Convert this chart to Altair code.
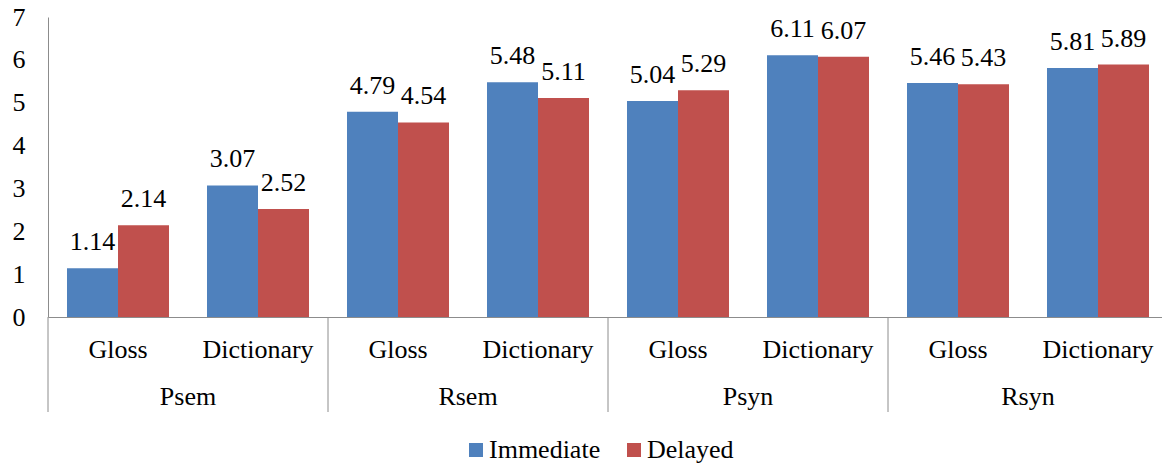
import altair as alt
import pandas as pd

groups = ["Psem", "Rsem", "Psyn", "Rsyn"]
subs = ["Gloss", "Dictionary"]
series = ["Immediate", "Delayed"]
immediate = [1.14, 3.07, 4.79, 5.48, 5.04, 6.11, 5.46, 5.81]
delayed = [2.14, 2.52, 4.54, 5.11, 5.29, 6.07, 5.43, 5.89]
colors = ["#4F81BD", "#C0504D"]
y_ticks = [0, 1, 2, 3, 4, 5, 6, 7]

FONT = "Liberation Serif, Times New Roman, DejaVu Serif, serif"
FS = 26
GRAY = "#8C8C8C"

rows = []
keys = []
for gi, g in enumerate(groups):
    for si, s in enumerate(subs):
        k = f"{g}|{s}"
        keys.append(k)
        i = gi * 2 + si
        rows.append(dict(key=k, group=g, sub=s, series="Immediate", value=immediate[i]))
        rows.append(dict(key=k, group=g, sub=s, series="Delayed", value=delayed[i]))
df = pd.DataFrame(rows)
sub_df = pd.DataFrame({"key": keys, "sub": [k.split("|")[1] for k in keys]})
grp_df = pd.DataFrame({"group": groups})

W, H = 1114, 300
FULL = 1120  # last group runs past the right edge, as in the reference

def key_scale():
    return alt.Scale(domain=keys, range=[0, FULL], paddingInner=0, paddingOuter=0)

def grp_scale():
    return alt.Scale(domain=groups, range=[0, FULL], paddingInner=0, paddingOuter=0)

off_scale = alt.Scale(domain=series, paddingOuter=0.3725, paddingInner=0)
y_scale = alt.Scale(domain=[0, 7], nice=False)

bars = alt.Chart(df).mark_bar().encode(
    x=alt.X("key:N", scale=key_scale(),
            axis=alt.Axis(labels=False, ticks=False, title=None, domainColor=GRAY, domainWidth=1)),
    xOffset=alt.XOffset("series:N", scale=off_scale, sort=series),
    y=alt.Y("value:Q", scale=y_scale,
            axis=alt.Axis(values=y_ticks, grid=False, ticks=False, labelPadding=23, title=None,
                          domainColor=GRAY, domainWidth=1, labelFont=FONT, labelFontSize=FS,
                          labelColor="black")),
    color=alt.Color("series:N", sort=series, scale=alt.Scale(domain=series, range=colors),
                    legend=alt.Legend(orient="none", legendX=415, legendY=420, direction="horizontal",
                                      title=None, symbolType="square", symbolSize=196,
                                      symbolStrokeWidth=0, labelFontSize=FS, labelFont=FONT,
                                      labelOffset=0, columnPadding=20, labelColor="black")),
)

values = alt.Chart(df).mark_text(dy=-18, baseline="alphabetic", fontSize=FS, font=FONT, color="black").encode(
    x=alt.X("key:N", scale=key_scale(), axis=None),
    xOffset=alt.XOffset("series:N", scale=off_scale, sort=series),
    y=alt.Y("value:Q", scale=y_scale),
    text=alt.Text("value:Q", format=".2f"),
)

sub_labels = alt.Chart(sub_df).mark_text(baseline="alphabetic", fontSize=FS, font=FONT, color="black").encode(
    x=alt.X("key:N", scale=key_scale(), axis=None),
    y=alt.value(341),
    text="sub:N",
)

grp_labels = alt.Chart(grp_df).mark_text(baseline="alphabetic", fontSize=FS, font=FONT, color="black").encode(
    x=alt.X("group:N", scale=grp_scale(), axis=None),
    y=alt.value(388),
    text="group:N",
)

seps = alt.Chart(grp_df).mark_rule(color=GRAY, strokeWidth=1).encode(
    x=alt.X("group:N", scale=grp_scale(), axis=None, bandPosition=0),
    y=alt.value(H),
    y2=alt.value(395),
)

chart = alt.layer(bars, values, sub_labels, grp_labels, seps).resolve_scale(
    x="independent"
).properties(
    width=W, height=H,
    autosize=alt.AutoSizeParams(type="none"),
    padding={"left": 48, "top": 17, "right": 0, "bottom": 151},
).configure_view(stroke=None)

chart.save("out.html", embed_options={"renderer": "svg", "actions": False})
